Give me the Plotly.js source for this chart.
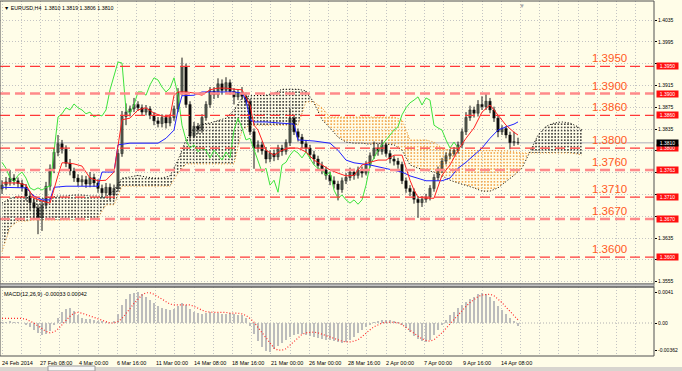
<!DOCTYPE html>
<html><head><meta charset="utf-8">
<script src="https://cdn.plot.ly/plotly-3.0.1.min.js"></script>
<style>html,body{margin:0;padding:0;background:#fffde8;}#chart{width:682px;height:371px;}</style>
</head><body><div id="chart"></div>
<script>
const symbol = 'EURUSD,H4';
const xLabels = ['24 Feb 2014','27 Feb 08:00','4 Mar 00:00','6 Mar 16:00','11 Mar 00:00','14 Mar 08:00','18 Mar 16:00','21 Mar 00:00','26 Mar 00:00','28 Mar 16:00','2 Apr 00:00','7 Apr 00:00','9 Apr 16:00','14 Apr 08:00'];
const xLabelBars = [0,9.6,19.2,28.8,38.4,48,57.6,67.2,76.8,86.4,96,105.6,115.2,124.8];

const openP = [1.3725,1.3732,1.3738,1.3745,1.3740,1.3735,1.3728,1.3712,1.3700,1.3690,
1.3672,1.3695,1.3730,1.3762,1.3792,1.3808,1.3798,1.3772,1.3758,1.3745,
1.3738,1.3742,1.3734,1.3746,1.3736,1.3726,1.3718,1.3728,1.3714,1.3726,
1.3790,1.3858,1.3866,1.3872,1.3880,1.3874,1.3866,1.3872,1.3860,1.3850,
1.3845,1.3856,1.3846,1.3856,1.3872,1.3902,1.3950,1.3880,1.3822,1.3840,
1.3834,1.3856,1.3880,1.3905,1.3898,1.3918,1.3906,1.3920,1.3904,1.3894,
1.3902,1.3895,1.3885,1.3830,1.3800,1.3806,1.3795,1.3780,1.3790,1.3784,
1.3800,1.3794,1.3810,1.3855,1.3830,1.3820,1.3808,1.3800,1.3788,1.3780,
1.3768,1.3760,1.3750,1.3740,1.3734,1.3724,1.3740,1.3746,1.3756,1.3750,
1.3760,1.3754,1.3770,1.3786,1.3800,1.3794,1.3806,1.3790,1.3780,1.3776,
1.3770,1.3740,1.3726,1.3720,1.3706,1.3700,1.3706,1.3710,1.3726,1.3746,
1.3760,1.3776,1.3786,1.3790,1.3796,1.3806,1.3830,1.3856,1.3870,1.3864,
1.3880,1.3876,1.3886,1.3870,1.3855,1.3830,1.3836,1.3824,1.3810,1.3810];
const highP = [1.3741,1.3747,1.3760,1.3752,1.3746,1.3742,1.3734,1.3720,1.3708,1.3697,
1.3703,1.3738,1.3770,1.3800,1.3824,1.3815,1.3805,1.3780,1.3764,1.3752,
1.3750,1.3749,1.3756,1.3753,1.3743,1.3733,1.3736,1.3735,1.3733,1.3798,
1.3868,1.3882,1.3878,1.3892,1.3886,1.3880,1.3879,1.3877,1.3866,1.3857,
1.3862,1.3861,1.3862,1.3878,1.3910,1.3966,1.3955,1.3886,1.3848,1.3846,
1.3862,1.3886,1.3912,1.3912,1.3928,1.3926,1.3930,1.3926,1.3910,1.3908,
1.3912,1.3902,1.3890,1.3836,1.3814,1.3812,1.3802,1.3796,1.3797,1.3806,
1.3806,1.3816,1.3872,1.3860,1.3836,1.3826,1.3815,1.3806,1.3795,1.3786,
1.3775,1.3766,1.3757,1.3748,1.3740,1.3746,1.3754,1.3764,1.3762,1.3766,
1.3766,1.3776,1.3792,1.3812,1.3808,1.3815,1.3810,1.3796,1.3786,1.3782,
1.3775,1.3746,1.3732,1.3726,1.3712,1.3712,1.3716,1.3732,1.3752,1.3766,
1.3782,1.3792,1.3798,1.3802,1.3812,1.3836,1.3866,1.3878,1.3876,1.3888,
1.3895,1.3900,1.3892,1.3876,1.3860,1.3842,1.3840,1.3830,1.3830,1.3819];
const lowP = [1.3716,1.3724,1.3731,1.3732,1.3727,1.3720,1.3704,1.3686,1.3668,1.3642,
1.3648,1.3688,1.3722,1.3754,1.3785,1.3790,1.3765,1.3750,1.3738,1.3730,
1.3730,1.3727,1.3728,1.3729,1.3718,1.3708,1.3711,1.3704,1.3706,1.3720,
1.3784,1.3842,1.3858,1.3866,1.3868,1.3860,1.3860,1.3853,1.3842,1.3838,
1.3838,1.3836,1.3840,1.3850,1.3866,1.3896,1.3874,1.3812,1.3818,1.3826,
1.3828,1.3850,1.3874,1.3890,1.3892,1.3898,1.3900,1.3898,1.3880,1.3888,
1.3889,1.3878,1.3824,1.3762,1.3792,1.3788,1.3772,1.3774,1.3776,1.3778,
1.3786,1.3788,1.3804,1.3824,1.3812,1.3800,1.3792,1.3780,1.3770,1.3760,
1.3752,1.3742,1.3732,1.3726,1.3704,1.3718,1.3734,1.3740,1.3742,1.3744,
1.3746,1.3750,1.3764,1.3780,1.3786,1.3788,1.3784,1.3772,1.3768,1.3762,
1.3734,1.3718,1.3712,1.3698,1.3672,1.3692,1.3700,1.3704,1.3720,1.3740,
1.3754,1.3770,1.3780,1.3786,1.3790,1.3800,1.3824,1.3850,1.3856,1.3858,
1.3870,1.3870,1.3864,1.3848,1.3820,1.3824,1.3818,1.3798,1.3804,1.3806];
const closeP = [1.3732,1.3738,1.3745,1.3740,1.3735,1.3728,1.3712,1.3700,1.3690,1.3672,
1.3695,1.3730,1.3762,1.3792,1.3808,1.3798,1.3772,1.3758,1.3745,1.3738,
1.3742,1.3734,1.3746,1.3736,1.3726,1.3718,1.3728,1.3714,1.3726,1.3790,
1.3858,1.3866,1.3872,1.3880,1.3874,1.3866,1.3872,1.3860,1.3850,1.3845,
1.3856,1.3846,1.3856,1.3872,1.3902,1.3950,1.3880,1.3822,1.3840,1.3834,
1.3856,1.3880,1.3905,1.3898,1.3918,1.3906,1.3920,1.3904,1.3894,1.3902,
1.3895,1.3885,1.3830,1.3800,1.3806,1.3795,1.3780,1.3790,1.3784,1.3800,
1.3794,1.3810,1.3855,1.3830,1.3820,1.3808,1.3800,1.3788,1.3780,1.3768,
1.3760,1.3750,1.3740,1.3734,1.3724,1.3740,1.3746,1.3756,1.3750,1.3760,
1.3754,1.3770,1.3786,1.3800,1.3794,1.3806,1.3790,1.3780,1.3776,1.3770,
1.3740,1.3726,1.3720,1.3706,1.3700,1.3706,1.3710,1.3726,1.3746,1.3760,
1.3776,1.3786,1.3790,1.3796,1.3806,1.3830,1.3856,1.3870,1.3864,1.3880,
1.3876,1.3886,1.3870,1.3855,1.3830,1.3836,1.3824,1.3810,1.3812,1.3810];

const tenkanBars = [0,2,4,6,8,10,12,14,15,16,18,20,22,24,26,28,29,30,32,34,36,38,40,42,43,44,46,48,50,52,54,56,58,60,62,63,64,66,68,70,72,74,76,78,80,82,84,86,88,90,92,94,96,98,100,102,103,104,106,108,110,112,114,116,118,120,122,124,126,128,129];
const tenkan = [1.3736,1.3736,1.3736,1.3732,1.3708,1.3703,1.3699,1.3750,1.3773,1.3773,
1.3771,1.3767,1.3745,1.3740,1.3741,1.3756,1.3806,1.3852,1.3855,1.3870,
1.3874,1.3864,1.3859,1.3857,1.3897,1.3903,1.3903,1.3901,1.3897,1.3907,
1.3910,1.3910,1.3908,1.3907,1.3879,1.3842,1.3833,1.3796,1.3787,1.3796,
1.3800,1.3800,1.3793,1.3778,1.3769,1.3760,1.3754,1.3749,1.3750,1.3769,
1.3774,1.3778,1.3778,1.3787,1.3787,1.3741,1.3723,1.3710,1.3708,1.3708,
1.3750,1.3769,1.3796,1.3818,1.3837,1.3866,1.3879,1.3861,1.3842,1.3829,1.3824];
const kijunBars = [0,4,6,8,10,12,13,16,20,24,25,28,29,32,36,39,41,43,44,45,48,50,54,58,60,61,62,63,66,70,73,74,78,82,84,86,88,92,96,100,102,104,106,110,112,114,116,118,120,122,124,126,128,129];
const kijun = [1.3728,1.3728,1.3727,1.3712,1.3705,1.3705,1.3728,1.3730,1.3730,1.3730,
1.3756,1.3756,1.3806,1.3809,1.3809,1.3809,1.3818,1.3833,1.3870,1.3896,
1.3897,1.3903,1.3903,1.3903,1.3901,1.3888,1.3852,1.3848,1.3848,1.3846,
1.3844,1.3815,1.3813,1.3809,1.3796,1.3778,1.3773,1.3769,1.3763,1.3756,
1.3749,1.3745,1.3740,1.3740,1.3745,1.3763,1.3774,1.3787,1.3800,1.3818,
1.3833,1.3839,1.3844,1.3848];
const chikou = [1.3774,1.3763,1.3745,1.3738,1.3750,1.3756,1.3745,1.3727,1.3723,1.3727,
1.3723,1.3728,1.3730,1.3796,1.3857,1.3863,1.3874,1.3870,1.3881,1.3874,
1.3870,1.3863,1.3866,1.3857,1.3861,1.3859,1.3870,1.3907,1.3934,1.3958,
1.3956,1.3870,1.3864,1.3879,1.3903,1.3903,1.3897,1.3916,1.3929,1.3925,
1.3912,1.3903,1.3910,1.3929,1.3897,1.3842,1.3815,1.3800,1.3806,1.3793,
1.3800,1.3796,1.3782,1.3796,1.3787,1.3778,1.3793,1.3782,1.3833,1.3855,
1.3837,1.3815,1.3818,1.3796,1.3778,1.3756,1.3763,1.3732,1.3741,1.3719,
1.3769,1.3774,1.3787,1.3796,1.3791,1.3782,1.3793,1.3782,1.3769,1.3763,
1.3760,1.3750,1.3756,1.3723,1.3708,1.3714,1.3705,1.3699,1.3705,1.3697,
1.3705,1.3732,1.3769,1.3782,1.3796,1.3806,1.3815,1.3824,1.3833,1.3839,
1.3861,1.3874,1.3883,1.3888,1.3894,1.3879,1.3892,1.3888,1.3842,1.3837,
1.3833,1.3815,1.3800,1.3811,1.3800];
const spanA = [1.3699,1.3708,1.3712,1.3710,1.3706,1.3708,1.3710,1.3712,1.3712,1.3714,
1.3714,1.3712,1.3712,1.3710,1.3723,1.3745,1.3747,1.3750,1.3747,1.3745,
1.3745,1.3749,1.3778,1.3815,1.3837,1.3844,1.3846,1.3850,1.3855,1.3870,
1.3892,1.3896,1.3897,1.3897,1.3901,1.3908,1.3908,1.3908,1.3905,1.3883,
1.3852,1.3837,1.3820,1.3811,1.3809,1.3809,1.3807,1.3809,1.3807,1.3806,
1.3796,1.3769,1.3763,1.3760,1.3756,1.3749,1.3741,1.3736,1.3732,1.3727,
1.3721,1.3721,1.3727,1.3738,1.3750,1.3763,1.3793,1.3824,1.3840,1.3846,
1.3848,1.3846,1.3839,1.3833];
const spanB = [1.3610,1.3654,1.3666,1.3666,1.3668,1.3668,1.3668,1.3668,1.3668,1.3668,
1.3668,1.3668,1.3672,1.3696,1.3696,1.3730,1.3730,1.3730,1.3730,1.3730,
1.3730,1.3730,1.3754,1.3771,1.3771,1.3771,1.3771,1.3771,1.3771,1.3771,
1.3833,1.3842,1.3842,1.3842,1.3842,1.3842,1.3842,1.3842,1.3885,1.3885,
1.3874,1.3857,1.3857,1.3857,1.3857,1.3857,1.3857,1.3857,1.3857,1.3857,
1.3852,1.3815,1.3815,1.3815,1.3811,1.3800,1.3796,1.3796,1.3796,1.3796,
1.3796,1.3796,1.3796,1.3795,1.3793,1.3791,1.3791,1.3791,1.3791,1.3791,
1.3791,1.3791,1.3789,1.3787];
const macdHist = [0.0001,0.0001,0.0002,0.0001,0.0001,0.0000,-0.0002,-0.0005,-0.0009,-0.0013,
-0.0016,-0.0015,-0.0010,-0.0003,0.0006,0.0014,0.0019,0.0020,0.0016,0.0010,
0.0006,0.0005,0.0005,0.0004,0.0003,0.0002,0.0001,0.0000,0.0002,0.0012,
0.0024,0.0032,0.0038,0.0040,0.0041,0.0038,0.0035,0.0031,0.0027,0.0023,
0.0020,0.0018,0.0017,0.0019,0.0023,0.0026,0.0024,0.0019,0.0015,0.0013,
0.0012,0.0013,0.0014,0.0013,0.0013,0.0012,0.0012,0.0013,0.0012,0.0011,
0.0010,0.0006,-0.0004,-0.0014,-0.0024,-0.0032,-0.0037,-0.0038,-0.0035,-0.0030,
-0.0026,-0.0022,-0.0018,-0.0016,-0.0015,-0.0015,-0.0016,-0.0017,-0.0018,-0.0020,
-0.0021,-0.0022,-0.0023,-0.0024,-0.0025,-0.0026,-0.0025,-0.0022,-0.0018,-0.0013,
-0.0009,-0.0005,-0.0002,0.0001,0.0003,0.0004,0.0004,0.0004,0.0003,0.0001,
-0.0002,-0.0007,-0.0012,-0.0017,-0.0021,-0.0024,-0.0025,-0.0022,-0.0016,-0.0009,
-0.0002,0.0004,0.0010,0.0015,0.0020,0.0024,0.0028,0.0032,0.0035,0.0038,
0.0040,0.0039,0.0035,0.0029,0.0023,0.0017,0.0012,0.0007,0.0002,-0.00033];
const macdSignal = [0.0006,0.0006,0.0006,0.0006,0.0006,0.0006,0.0005,0.0003,0.0000,-0.0004,
-0.0008,-0.0011,-0.0013,-0.0012,-0.0008,-0.0002,0.0004,0.0009,0.0013,0.0014,
0.0013,0.0011,0.0009,0.0007,0.0005,0.0003,0.0001,0.0000,0.0000,0.0002,
0.0006,0.0012,0.0019,0.0026,0.0032,0.0037,0.0040,0.0040,0.0038,0.0035,
0.0031,0.0028,0.0025,0.0024,0.0024,0.0025,0.0025,0.0024,0.0022,0.0019,
0.0017,0.0015,0.0014,0.0014,0.0014,0.0014,0.0014,0.0013,0.0013,0.0013,
0.0012,0.0010,0.0006,0.0001,-0.0006,-0.0013,-0.0020,-0.0027,-0.0033,-0.0036,
-0.0036,-0.0034,-0.0029,-0.0024,-0.0019,-0.0015,-0.0013,-0.0012,-0.0012,-0.0013,
-0.0015,-0.0017,-0.0019,-0.0021,-0.0022,-0.0024,-0.0025,-0.0025,-0.0024,-0.0022,
-0.0018,-0.0013,-0.0009,-0.0005,-0.0002,0.0000,0.0001,0.0001,0.0001,0.0000,
-0.0002,-0.0006,-0.0010,-0.0014,-0.0018,-0.0021,-0.0023,-0.0024,-0.0022,-0.0018,
-0.0013,-0.0007,-0.0001,0.0005,0.0011,0.0017,0.0022,0.0027,0.0031,0.0035,
0.0037,0.0038,0.0038,0.0036,0.0032,0.0027,0.0021,0.0015,0.0009,0.00042];
const levels = [1.3950,1.3900,1.3860,1.3800,1.3760,1.3710,1.3670,1.3600];
const levelTags = ['1.3950','1.3900','1.3860','1.3800','1.3763','1.3710','1.3670','1.3600'];
const priceTicks = [1.3555,1.3595,1.3635,1.3675,1.3715,1.3755,1.3795,1.3835,1.3875,1.3915,1.3955,1.3995,1.4035];
const macdTicks = [-0.00362,0,0.0041];
const macdTickText = ['-0.00362','0.00','0.0041'];

// ---------- rendering ----------
const BG = '#fffde8';
const FONT = 'Liberation Sans, Arial, sans-serif';
const thickLevels = [1.3900,1.3760,1.3670];
const bars = closeP.map((_, i) => i);
const last = closeP.length - 1;
const chikouBars = chikou.map((_, i) => i);
const cloudBars = spanA.map((_, k) => (k < spanA.length - 1 ? 2 * k : 2 * k - 1));

// axis labels that sit under a level tag are covered in the original
const tagY = levels.concat([closeP[last]]);
const tickText = priceTicks.map(v => (tagY.some(t => Math.abs(t - v) < 0.00065) ? '' : v.toFixed(4)));

function cloudSegments(xs, a, b) {
  const segs = [];
  let cur = {up: a[0] >= b[0], x: [xs[0]], a: [a[0]], b: [b[0]]};
  for (let k = 1; k < xs.length; k++) {
    const up = a[k] >= b[k];
    if (up !== cur.up) {
      const d0 = a[k-1] - b[k-1], d1 = a[k] - b[k];
      const t = d0 / (d0 - d1);
      const xc = xs[k-1] + t * (xs[k] - xs[k-1]);
      const yc = a[k-1] + t * (a[k] - a[k-1]);
      cur.x.push(xc); cur.a.push(yc); cur.b.push(yc);
      segs.push(cur);
      cur = {up: up, x: [xc], a: [yc], b: [yc]};
    }
    cur.x.push(xs[k]); cur.a.push(a[k]); cur.b.push(b[k]);
  }
  segs.push(cur);
  return segs;
}

const traces = [];
cloudSegments(cloudBars, spanA, spanB).forEach(s => {
  traces.push({
    type: 'scatter', mode: 'lines', xaxis: 'x', yaxis: 'y',
    x: s.x.concat(s.x.slice().reverse()),
    y: s.a.concat(s.b.slice().reverse()),
    fill: 'toself', line: {width: 0, color: 'rgba(0,0,0,0)'},
    fillcolor: 'rgba(0,0,0,0)',
    fillpattern: {shape: '.', fgcolor: s.up ? '#1a1a1a' : '#f0962f', bgcolor: 'rgba(0,0,0,0)', size: 3.2, solidity: 0.22},
    hoverinfo: 'skip'
  });
});
traces.push({type: 'scatter', mode: 'lines', x: cloudBars, y: spanB, line: {color: '#f0962f', width: 1, dash: '1px,2px'}, hoverinfo: 'skip'});
traces.push({type: 'scatter', mode: 'lines', x: cloudBars, y: spanA, line: {color: '#000000', width: 1, dash: '1px,2px'}, hoverinfo: 'skip'});

// MACD
traces.push({type: 'bar', xaxis: 'x2', yaxis: 'y2', x: bars, y: macdHist, width: 0.35,
  marker: {color: '#bcbcbc', line: {width: 0}}, hoverinfo: 'skip'});
traces.push({type: 'scatter', mode: 'lines', xaxis: 'x2', yaxis: 'y2', x: bars, y: macdSignal,
  line: {color: '#ff2a2a', width: 1.2, dash: '1px,2px'}, hoverinfo: 'skip'});

// candles
const wx = [], wy = [];
bars.forEach(i => { wx.push(i, i, null); wy.push(lowP[i], highP[i], null); });
traces.push({type: 'scatter', mode: 'lines', x: wx, y: wy, line: {color: '#1a1a1a', width: 1}, hoverinfo: 'skip'});
traces.push({type: 'bar', x: bars,
  base: bars.map(i => Math.min(openP[i], closeP[i])),
  y: bars.map(i => Math.max(Math.abs(closeP[i] - openP[i]), 0.00006)),
  width: 0.6,
  marker: {color: bars.map(i => closeP[i] >= openP[i] ? '#8e9a86' : '#000000'), line: {color: '#000', width: 0.4}},
  hoverinfo: 'skip'});

// Ichimoku lines
traces.push({type: 'scatter', mode: 'lines', x: chikouBars, y: chikou, line: {color: '#3de33d', width: 1}, hoverinfo: 'skip'});
traces.push({type: 'scatter', mode: 'lines', x: kijunBars, y: kijun, line: {color: '#2020ff', width: 1}, hoverinfo: 'skip'});
traces.push({type: 'scatter', mode: 'lines', x: tenkanBars, y: tenkan, line: {color: '#ff2020', width: 1}, hoverinfo: 'skip'});

// shapes
const mainBottom = (356 - 284) / 355, macdTop = (356 - 287) / 355;
const shapes = [];
shapes.push({type: 'line', xref: 'paper', x0: 0, x1: 1, yref: 'y', y0: closeP[last], y1: closeP[last], line: {color: '#c8c8c8', width: 1.5}, layer: 'below'});
shapes.push({type: 'line', xref: 'paper', x0: 0, x1: 1, yref: 'y2', y0: 0, y1: 0, line: {color: '#b0b0b0', width: 1, dash: '1px,2px'}, layer: 'below'});
levels.forEach(v => {
  const thick = thickLevels.indexOf(v) >= 0;
  shapes.push({type: 'line', xref: 'paper', x0: 0, x1: 1, yref: 'y', y0: v, y1: v,
    line: {color: thick ? '#ff8a8a' : '#ff3838', width: thick ? 2.5 : 1.2, dash: '10px,5px'}, layer: 'above'});
});
shapes.push({type: 'rect', xref: 'paper', yref: 'paper', x0: 0, x1: 1, y0: mainBottom, y1: 1, line: {color: '#505050', width: 1}, fillcolor: 'rgba(0,0,0,0)', layer: 'above'});
shapes.push({type: 'rect', xref: 'paper', yref: 'paper', x0: 0, x1: 1, y0: macdTop, y1: mainBottom, line: {color: '#808080', width: 1}, fillcolor: '#c4c4c4', layer: 'above'});
shapes.push({type: 'rect', xref: 'paper', yref: 'paper', x0: 0, x1: 1, y0: 0, y1: macdTop, line: {color: '#505050', width: 1}, fillcolor: 'rgba(0,0,0,0)', layer: 'above'});
shapes.push({type: 'rect', xref: 'paper', yref: 'paper', x0: -0.01, x1: 682/654, y0: -15/355, y1: -11/355, line: {width: 0}, fillcolor: '#d8d5cf', layer: 'above'});
shapes.push({type: 'rect', xref: 'paper', yref: 'paper', x0: 48/654, x1: 95/654, y0: -15/355, y1: -10/355, line: {color: '#9a9a9a', width: 1}, fillcolor: '#f8f8f8', layer: 'above'});

// annotations
const ann = [];
levels.forEach((v, k) => {
  ann.push({xref: 'paper', x: 609/654, yref: 'y', y: v, yanchor: 'bottom', yshift: 0, xanchor: 'center',
    text: v.toFixed(4), showarrow: false, font: {family: FONT, size: 11.5, color: '#ff5a1e'}});
  ann.push({xref: 'paper', x: 1, xanchor: 'left', xshift: 2, yref: 'y', y: v, yanchor: 'middle',
    text: levelTags[k], showarrow: false, bgcolor: '#ff1010', width: 21, height: 6, borderpad: 0,
    font: {family: FONT, size: 5, color: '#ffffff'}});
});
ann.push({xref: 'paper', x: 1, xanchor: 'left', xshift: 2, yref: 'y', y: closeP[last], yanchor: 'middle',
  text: closeP[last].toFixed(4), showarrow: false, bgcolor: '#000000', width: 21, height: 6, borderpad: 0,
  font: {family: FONT, size: 5, color: '#ffffff'}});
ann.push({xref: 'paper', x: 0, xanchor: 'left', xshift: 2, yref: 'paper', y: 1, yanchor: 'top', yshift: -2,
  text: '▼ ' + symbol + '  ' + [openP[last], highP[last], lowP[last], closeP[last]].map(v => v.toFixed(4)).join(' '),
  showarrow: false, font: {family: FONT, size: 5.3, color: '#000'}});
ann.push({xref: 'paper', x: 0, xanchor: 'left', xshift: 2, yref: 'paper', y: macdTop, yanchor: 'top', yshift: -2,
  text: 'MACD(12,26,9) ' + macdHist[last].toFixed(5) + ' ' + macdSignal[last].toFixed(5),
  showarrow: false, font: {family: FONT, size: 5.5, color: '#000'}});
xLabels.forEach((t, k) => {
  ann.push({xref: 'x2', x: xLabelBars[k], xanchor: 'left', xshift: -2, yref: 'paper', y: 0, yanchor: 'top', yshift: -2,
    text: t, showarrow: false, font: {family: FONT, size: 5.5, color: '#000'}});
});
ann.push({xref: 'x', x: 130, yref: 'paper', y: 1, yanchor: 'top', text: '▼', showarrow: false, font: {size: 6, color: '#a8a8a8'}});

const gridX = {range: [-0.5, 163], tick0: 0, dtick: 4.8, showticklabels: false, ticks: '',
  showgrid: true, gridcolor: '#c4c4c4', griddash: '1px,2px', gridwidth: 1, zeroline: false, showline: false, fixedrange: true};
const layout = {
  width: 682, height: 371, margin: {l: 0, r: 28, t: 1, b: 15},
  paper_bgcolor: BG, plot_bgcolor: BG, showlegend: false, barmode: 'overlay', bargap: 0,
  font: {family: FONT, size: 5, color: '#000'},
  xaxis: Object.assign({anchor: 'y'}, gridX),
  xaxis2: Object.assign({anchor: 'y2', matches: 'x'}, gridX),
  yaxis: {domain: [mainBottom, 1], range: [1.35506, 1.40699], side: 'right', tickvals: priceTicks,
    ticktext: tickText, ticks: 'outside', ticklen: 2, tickcolor: '#000',
    tickfont: {family: FONT, size: 5, color: '#000'}, showgrid: true, gridcolor: '#c4c4c4', griddash: '1px,2px',
    zeroline: false, showline: false, fixedrange: true},
  yaxis2: {domain: [0, macdTop], range: [-0.004364, 0.004761], side: 'right', tickvals: macdTicks, ticktext: macdTickText,
    ticks: 'outside', ticklen: 2, tickcolor: '#000', tickfont: {family: FONT, size: 5, color: '#000'},
    showgrid: false, zeroline: false, showline: false, fixedrange: true},
  shapes: shapes, annotations: ann
};
Plotly.newPlot('chart', traces, layout, {staticPlot: true, displayModeBar: false});
</script></body></html>
